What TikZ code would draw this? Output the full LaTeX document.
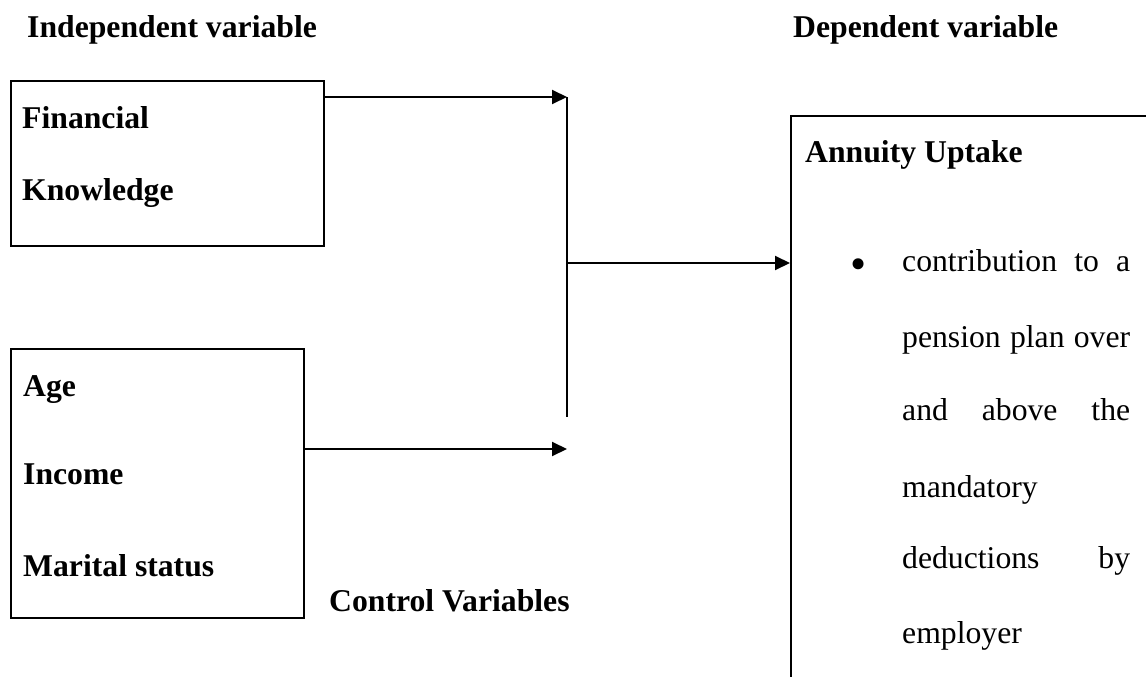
\documentclass[tikz,border=0pt]{standalone}
\usepackage{fontspec}
\setmainfont{Liberation Serif}
\usetikzlibrary{arrows.meta}
\begin{document}
\begin{tikzpicture}[x=1pt,y=1pt,
  frame/.style={draw,line width=2pt,rectangle,inner sep=0pt,anchor=north west},
  lbl/.style={anchor=base west,inner sep=0pt,font=\fontsize{31.7}{38}\selectfont\bfseries},
  body/.style={anchor=base west,inner sep=0pt,font=\fontsize{31.7}{38}\selectfont},
  link/.style={line width=2pt},
  arr/.style={line width=2pt,-{Triangle[length=15pt,width=14pt]}}]
  \useasboundingbox (0,0) rectangle (1146,-677);
  \clip (0,0) rectangle (1146,-677);

  % headings
  \node[lbl] (indep) at (27,-38) {Independent variable};
  \node[lbl] (dep) at (793,-38) {Dependent variable};

  % independent variable box
  \node[frame,minimum width=313pt,minimum height=165pt] (box1) at (10,-80) {};
  \node[lbl] (fin) at (22,-128) {Financial};
  \node[lbl] (know) at (22,-200) {Knowledge};

  % control variables box
  \node[frame,minimum width=293pt,minimum height=269pt] (box2) at (10,-348) {};
  \node[lbl] (age) at (23,-396) {Age};
  \node[lbl] (inc) at (23,-484) {Income};
  \node[lbl] (mar) at (23,-576) {Marital status};
  \node[lbl] (ctrl) at (329,-611) {Control Variables};

  % dependent variable box (runs past the page edge)
  \node[frame,minimum width=400pt,minimum height=620pt] (box3) at (790,-115) {};
  \node[lbl] (annu) at (805,-162) {Annuity Uptake};
  \node[body,anchor=base,font=\fontsize{46}{50}\selectfont] (bul) at (859,-279) {\textbullet};
  \node[body] (l1) at (902,-271) {\makebox[228pt][s]{contribution to a}};
  \node[body] (l2) at (902,-347) {\makebox[228pt][s]{pension plan over}};
  \node[body] (l3) at (902,-420) {\makebox[228pt][s]{and above the}};
  \node[body] (l4) at (902,-497) {mandatory};
  \node[body] (l5) at (902,-568) {\makebox[228pt][s]{deductions by}};
  \node[body] (l6) at (902,-643) {employer};

  % junction points
  \coordinate (jt) at (567,-97);
  \coordinate (jm) at (567,-263);
  \coordinate (jb) at (567,-417);
  \coordinate (cv) at (567,-449);

  % connectors
  \draw[arr] ([yshift=-17pt]box1.north east) -- (jt);
  \draw[link] (jt) -- (jb);
  \draw[arr] (jm) -- (jm -| box3.west);
  \draw[arr] (box2.east |- cv) -- (cv);
\end{tikzpicture}
\end{document}
